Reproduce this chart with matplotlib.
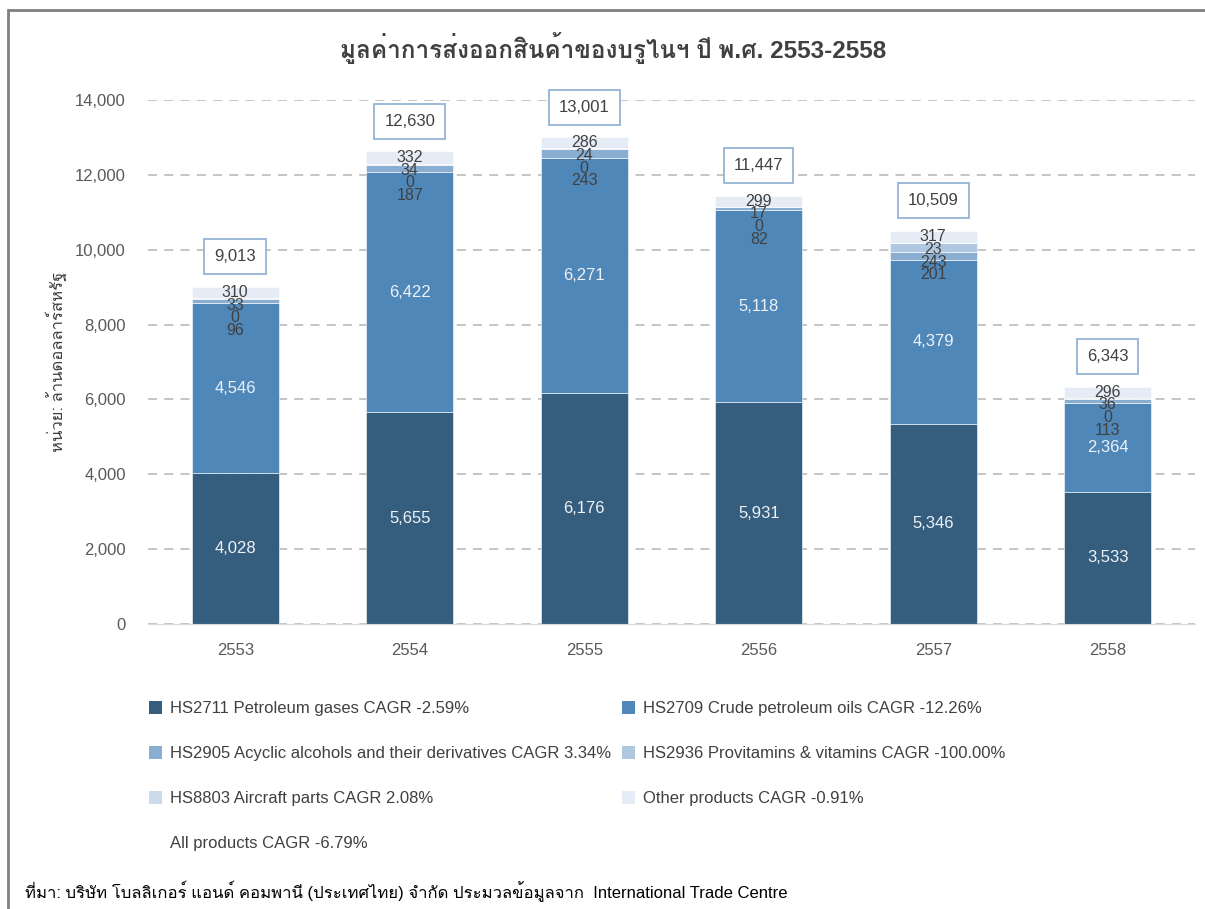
import numpy as np
import matplotlib
matplotlib.use("Agg")
import matplotlib.pyplot as plt
from matplotlib import font_manager
from matplotlib.ft2font import FT2Font
from matplotlib.patches import Patch, Rectangle


def find_thai_font():
    # first installed font that actually has Thai glyphs
    for f in font_manager.fontManager.ttflist:
        try:
            if 0x0E01 in FT2Font(f.fname).get_charmap():
                return f.name
        except Exception:
            pass
    return None


thai = find_thai_font()
fams = ["Liberation Sans", "DejaVu Sans"]
if thai:
    fams = ["Liberation Sans", thai, "DejaVu Sans"]
plt.rcParams["font.family"] = fams

years = ["2553", "2554", "2555", "2556", "2557", "2558"]
hs2711 = [4028, 5655, 6176, 5931, 5346, 3533]
hs2709 = [4546, 6422, 6271, 5118, 4379, 2364]
hs2905 = [96, 187, 243, 82, 201, 113]
hs2936 = [0, 0, 0, 0, 243, 0]
hs8803 = [33, 34, 24, 17, 23, 36]
other = [310, 332, 286, 299, 317, 296]
totals = [9013, 12630, 13001, 11447, 10509, 6343]

series_names = [
    "HS2711 Petroleum gases CAGR -2.59%",
    "HS2709 Crude petroleum oils CAGR -12.26%",
    "HS2905 Acyclic alcohols and their derivatives CAGR 3.34%",
    "HS2936 Provitamins & vitamins CAGR -100.00%",
    "HS8803 Aircraft parts CAGR 2.08%",
    "Other products CAGR -0.91%",
]
all_label = "All products CAGR -6.79%"

colors = ["#355E7E", "#4F87B9", "#8AAED1", "#B0C7E1", "#CCDBEB", "#E6ECF5"]
txt = "#404040"

series = [hs2711, hs2709, hs2905, hs2936, hs8803, other]

fig = plt.figure(figsize=(12.05, 9.09), dpi=100)
ax = fig.add_axes([0.1228, 0.3135, 0.8689, 0.5765])

x = np.arange(len(years))
bottom = np.zeros(len(years))
handles = []
for vals, c, name in zip(series, colors, series_names):
    vals = np.array(vals, dtype=float)
    ax.bar(x, vals, 0.5, bottom=bottom, color=c, edgecolor="white", linewidth=0.4, zorder=3)
    handles.append(Patch(facecolor=c, label=name))
    bottom += vals

# labels for the two big segments
base = np.zeros(len(years))
for vals in series[:2]:
    for i, v in enumerate(vals):
        ax.text(x[i], base[i] + v / 2, f"{v:,}", ha="center", va="center",
                fontsize=12, color="#EEF2F7", zorder=5)
    base += np.array(vals)

# small segments: go from top down and keep labels apart
gap = 340
for i in range(len(years)):
    cum = np.cumsum([s[i] for s in series])
    prev = None
    for k in range(5, 1, -1):
        centre = cum[k] - series[k][i] / 2
        y = centre if prev is None else min(centre, prev - gap)
        ax.text(x[i], y, f"{series[k][i]:,}", ha="center", va="center",
                fontsize=11.5, color=txt, zorder=5)
        prev = y

# total boxes
for i, t in enumerate(totals):
    ax.annotate(f"{t:,}", (x[i], t), xytext=(0, 16), textcoords="offset points",
                ha="center", va="bottom", fontsize=12, color=txt, zorder=6,
                annotation_clip=False,
                bbox=dict(boxstyle="square,pad=0.6", fc="white", ec="#9BBAD8", lw=1.4))

ax.set_xlim(-0.5, 5.5)
ax.set_ylim(0, 14000)
ax.set_yticks(np.arange(0, 14001, 2000))
ax.set_yticklabels([f"{v:,}" for v in range(0, 14001, 2000)])
ax.set_xticks(x)
ax.set_xticklabels(years)
ax.tick_params(length=0, labelsize=12, labelcolor="#595959")
ax.tick_params(axis="x", pad=14)
ax.tick_params(axis="y", pad=16)
ax.yaxis.grid(True, color="#C0C0C0", linestyle=(0, (5, 4)), linewidth=1.3, zorder=0)
for s in ["top", "right", "left"]:
    ax.spines[s].set_visible(False)
ax.spines["bottom"].set_color("#D9D9D9")
ax.spines["bottom"].set_zorder(4)
ax.set_ylabel("หน่วย: ล้านดอลลาร์สหรัฐ", fontsize=12, color=txt, labelpad=6)

fig.text(0.509, 0.947, "มูลค่าการส่งออกสินค้าของบรูไนฯ ปี พ.ศ. 2553-2558",
         ha="center", va="center", fontsize=17.5, fontweight="bold", color=txt)

blank = Patch(facecolor="none", edgecolor="none", label=all_label)
order = [handles[0], handles[2], handles[4], blank, handles[1], handles[3], handles[5]]
fig.legend(handles=order, loc="upper left", bbox_to_anchor=(0.111, 0.245), ncol=2,
           frameon=False, fontsize=12, labelcolor=txt, handlelength=0.8,
           handleheight=0.8, handletextpad=0.5, labelspacing=1.78, columnspacing=0.6)

fig.text(0.021, 0.008, "ที่มา: บริษัท โบลลิเกอร์ แอนด์ คอมพานี (ประเทศไทย) จำกัด ประมวลข้อมูลจาก  International Trade Centre",
         fontsize=12, color="black", va="bottom")

fig.patches.append(Rectangle((0.0066, -0.05), 1.1, 1.039, transform=fig.transFigure,
                             fill=False, ec="#808080", lw=2, zorder=10))

fig.savefig("out.png", dpi=100)
